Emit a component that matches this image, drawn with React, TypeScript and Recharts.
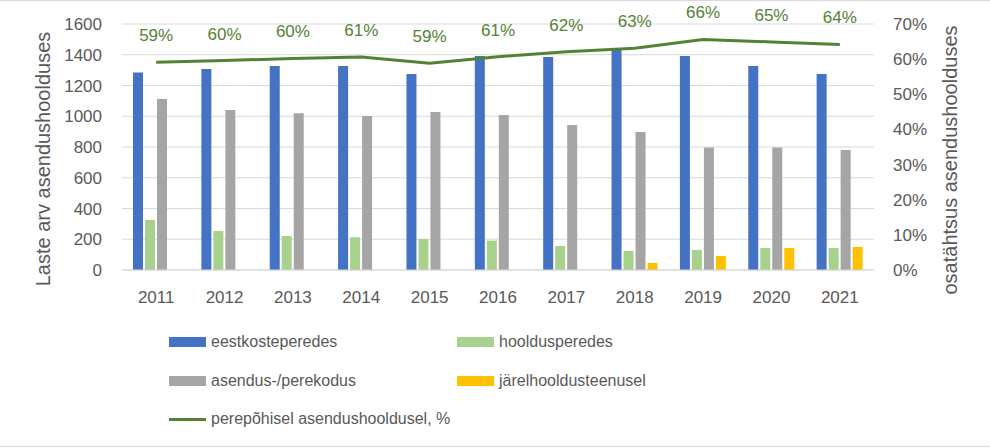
import React from 'react';
import { ComposedChart, Bar, Line, XAxis, YAxis, CartesianGrid, LabelList, Label } from 'recharts';

const years = ['2011', '2012', '2013', '2014', '2015', '2016', '2017', '2018', '2019', '2020', '2021'];
const eestkosteperedes = [1285, 1307, 1327, 1327, 1275, 1392, 1385, 1435, 1392, 1327, 1275];
const hooldusperedes = [325, 254, 221, 213, 202, 191, 156, 124, 130, 143, 143];
const asendusPerekodus = [1112, 1041, 1019, 1002, 1028, 1008, 943, 898, 796, 796, 780];
const jarelhooldus = [0, 0, 0, 0, 0, 0, 0, 46, 91, 143, 150];
const perepohine = [0.591, 0.596, 0.602, 0.606, 0.588, 0.607, 0.621, 0.631, 0.656, 0.649, 0.642];

const leftTicks = [0, 200, 400, 600, 800, 1000, 1200, 1400, 1600];
const rightTicks = [0, 0.1, 0.2, 0.3, 0.4, 0.5, 0.6, 0.7];

const data = years.map((y, i) => ({
  year: y,
  eest: eestkosteperedes[i],
  hool: hooldusperedes[i],
  asend: asendusPerekodus[i],
  jarel: jarelhooldus[i],
  pct: perepohine[i],
}));

const FONT = '"Liberation Sans", Arial, sans-serif';
const TICK = '#595959';
const GREEN = '#548235';

const legendItems = [
  { label: 'eestkosteperedes', color: '#4472C4', type: 'rect', x: 169, y: 342 },
  { label: 'hooldusperedes', color: '#A9D18E', type: 'rect', x: 457, y: 342 },
  { label: 'asendus-/perekodus', color: '#A5A5A5', type: 'rect', x: 169, y: 381 },
  { label: 'järelhooldusteenusel', color: '#FFC000', type: 'rect', x: 457, y: 381 },
  { label: 'perepõhisel asendushooldusel, %', color: GREEN, type: 'line', x: 169, y: 419 },
];

const pctFmt = (v: number) => `${Math.round(v * 100)}%`;

export default function App() {
  return (
    <div style={{ position: 'absolute', left: 0, top: 0, width: 990, height: 448, background: '#fff', fontFamily: FONT }}>
      <ComposedChart
        width={990}
        height={448}
        data={data}
        margin={{ top: 24, right: 0, bottom: 138, left: 0 }}
        barSize={10}
        barGap={2}
      >
        <CartesianGrid yAxisId="left" vertical={false} stroke="#d9d9d9" strokeWidth={1} />
        <XAxis
          dataKey="year"
          tickLine={false}
          axisLine={{ stroke: '#d9d9d9' }}
          tickSize={0}
          tickMargin={21}
          height={40}
          tick={{ fill: TICK, fontSize: 17, fontFamily: FONT }}
        />
        <YAxis
          yAxisId="left"
          domain={[0, 1600]}
          ticks={leftTicks}
          width={122}
          tickLine={false}
          axisLine={false}
          tickSize={0}
          tickMargin={20}
          tick={{ fill: TICK, fontSize: 17, fontFamily: FONT }}
        >
          <Label
            content={() => (
              <text
                transform="translate(50,159) rotate(-90)"
                textAnchor="middle"
                fill={TICK}
                fontSize={20}
                fontFamily={FONT}
              >
                Laste arv asendushoolduses
              </text>
            )}
          />
        </YAxis>
        <YAxis
          yAxisId="right"
          orientation="right"
          domain={[0, 0.7]}
          ticks={rightTicks}
          width={116}
          tickLine={false}
          axisLine={false}
          tickSize={0}
          tickMargin={19}
          tickFormatter={pctFmt}
          tick={{ fill: TICK, fontSize: 17, fontFamily: FONT }}
        >
          <Label
            content={() => (
              <text
                transform="translate(957,160) rotate(-90)"
                textAnchor="middle"
                fill={TICK}
                fontSize={20}
                fontFamily={FONT}
              >
                osatähtsus asendushoolduses
              </text>
            )}
          />
        </YAxis>
        <Bar yAxisId="left" dataKey="eest" fill="#4472C4" isAnimationActive={false} />
        <Bar yAxisId="left" dataKey="hool" fill="#A9D18E" isAnimationActive={false} />
        <Bar yAxisId="left" dataKey="asend" fill="#A5A5A5" isAnimationActive={false} />
        <Bar yAxisId="left" dataKey="jarel" fill="#FFC000" isAnimationActive={false} />
        <Line
          yAxisId="right"
          dataKey="pct"
          stroke={GREEN}
          strokeWidth={3}
          dot={false}
          type="linear"
          isAnimationActive={false}
        >
          <LabelList
            dataKey="pct"
            position="top"
            offset={21}
            formatter={(v: any) => pctFmt(Number(v))}
            fill={GREEN}
            fontSize={17}
            fontFamily={FONT}
          />
        </Line>
      </ComposedChart>
      {legendItems.map((it) => (
        <div
          key={it.label}
          style={{
            position: 'absolute',
            left: it.x,
            top: it.y - 11,
            height: 22,
            display: 'flex',
            alignItems: 'center',
            whiteSpace: 'nowrap',
          }}
        >
          <div
            style={{
              width: 37,
              height: it.type === 'rect' ? 10 : 3,
              background: it.color,
              marginRight: 5,
            }}
          />
          <span style={{ color: TICK, fontSize: 16, fontFamily: FONT }}>{it.label}</span>
        </div>
      ))}
      <div style={{ position: 'absolute', left: 0, top: 0, width: 990, height: 1, background: '#d9d9d9' }} />
      <div style={{ position: 'absolute', left: 0, top: 446, width: 990, height: 1, background: '#d9d9d9' }} />
    </div>
  );
}
